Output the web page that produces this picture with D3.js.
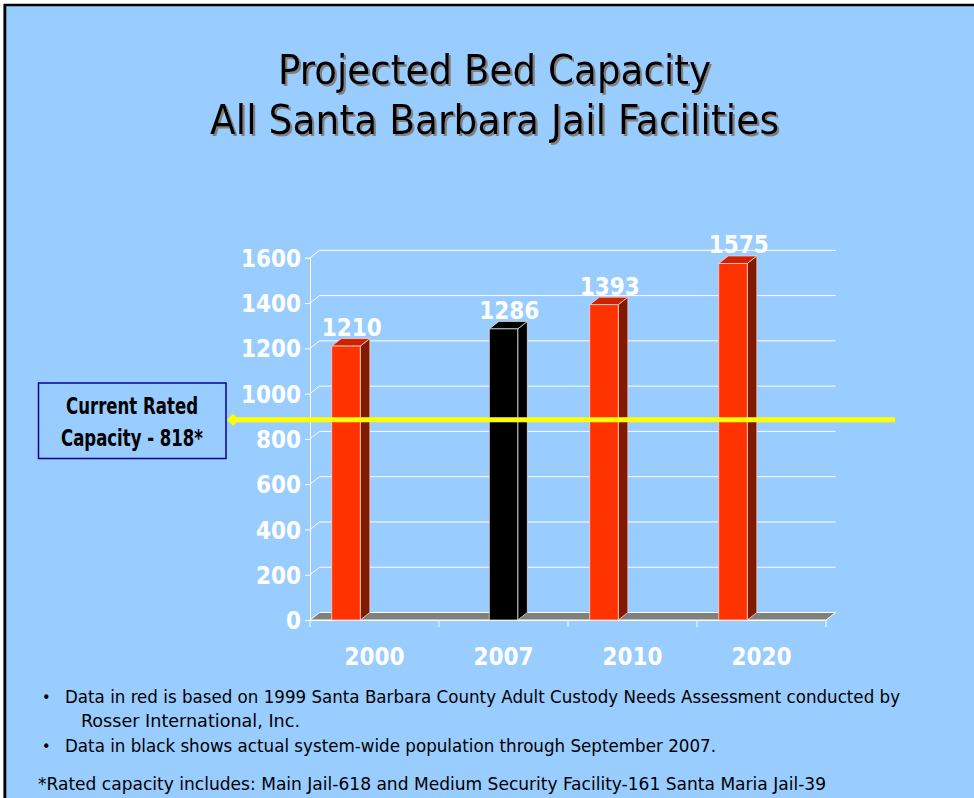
<!DOCTYPE html>
<html>
<head>
<meta charset="utf-8">
<script src="https://cdn.jsdelivr.net/npm/d3@7"></script>
<style>
  html, body { margin: 0; padding: 0; background: #ffffff; }
  svg { display: block; }
</style>
</head>
<body>
<svg id="chart" width="974" height="798"></svg>
<script>
// ---- data ----
const years = ["2000", "2007", "2010", "2020"];
const projected = [1210, null, 1393, 1575];   // red series (1999 needs assessment)
const actual = [null, 1286, null, null];      // black series (actual population)
const yTicks = [0, 200, 400, 600, 800, 1000, 1200, 1400, 1600];
const ratedCapacity = 818;
const titleLines = ["Projected Bed Capacity", "All Santa Barbara Jail Facilities"];
const calloutLines = ["Current Rated", "Capacity - 818*"];
const notes = [
  "Data in red is based on 1999 Santa Barbara County Adult Custody Needs Assessment conducted by",
  "Rosser International, Inc.",
  "Data in black shows actual system-wide population through September 2007.",
  "*Rated capacity includes:  Main Jail-618 and Medium Security Facility-161 Santa Maria Jail-39"
];

// ---- layout ----
const svg = d3.select("#chart");
const W = 974, H = 798;
const plot = { left: 310, right: 826, bottom: 620, top: 257.8 };
const depth = { dx: 9.6, dy: -7.5 };

// title drop shadow
const defs = svg.append("defs");
const shadow = defs.append("filter").attr("id", "titleShadow")
  .attr("x", "-5%").attr("y", "-20%").attr("width", "110%").attr("height", "140%");
shadow.append("feOffset").attr("in", "SourceAlpha").attr("dx", 2.2).attr("dy", 2.2).attr("result", "off");
shadow.append("feFlood").attr("flood-color", "#808080").attr("result", "col");
shadow.append("feComposite").attr("in", "col").attr("in2", "off").attr("operator", "in").attr("result", "sh");
const merge = shadow.append("feMerge");
merge.append("feMergeNode").attr("in", "sh");
merge.append("feMergeNode").attr("in", "SourceGraphic");

// slide background and frame
svg.append("rect").attr("x", 0).attr("y", 0).attr("width", W).attr("height", H).attr("fill", "#ffffff");
svg.append("rect").attr("x", 4).attr("y", 4).attr("width", W - 4).attr("height", H - 4).attr("fill", "#99CCFF");
svg.append("line").attr("x1", 3.5).attr("x2", 3.5).attr("y1", 4).attr("y2", H).attr("stroke", "#999999").attr("stroke-width", 1);
svg.append("line").attr("x1", 5).attr("x2", 5).attr("y1", 4).attr("y2", H).attr("stroke", "#000000").attr("stroke-width", 2.6);
svg.append("line").attr("x1", 4).attr("x2", W).attr("y1", 5).attr("y2", 5).attr("stroke", "#000000").attr("stroke-width", 2.6);

// ---- title ----
const titleFont = "'DejaVu Sans Condensed', 'DejaVu Sans', sans-serif";
const titleY = [84, 134];
const titleW = [433, 569];
titleLines.forEach((t, i) => {
  svg.append("text")
    .attr("x", 494.5).attr("y", titleY[i])
    .attr("text-anchor", "middle")
    .attr("font-family", titleFont)
    .attr("font-size", 40)
    .attr("textLength", titleW[i])
    .attr("lengthAdjust", "spacingAndGlyphs")
    .attr("fill", "#000000")
    .attr("filter", "url(#titleShadow)")
    .text(t);
});

// ---- scales ----
const x = d3.scaleBand().domain(years).range([plot.left, plot.right]).padding(0);
const slot = d3.scaleBand().domain([0, 1, 2]).range([0, x.bandwidth()]).paddingInner(0).paddingOuter(0.763);
const y = d3.scaleLinear().domain([0, 1600]).range([plot.bottom, plot.top]);

const white = "#ffffff";
const g = svg.append("g");

// back wall gridlines
g.selectAll("line.grid").data(yTicks.filter(v => v > 0)).join("line")
  .attr("class", "grid")
  .attr("x1", plot.left + depth.dx).attr("x2", plot.right + depth.dx)
  .attr("y1", d => y(d) + depth.dy).attr("y2", d => y(d) + depth.dy)
  .attr("stroke", white).attr("stroke-width", 1);

// side wall connectors from axis to back wall
g.selectAll("line.side").data(yTicks.filter(v => v > 0)).join("line")
  .attr("class", "side")
  .attr("x1", plot.left).attr("x2", plot.left + depth.dx)
  .attr("y1", d => y(d)).attr("y2", d => y(d) + depth.dy)
  .attr("stroke", white).attr("stroke-width", 1);

// floor
g.append("path")
  .attr("d", `M${plot.left},${plot.bottom} L${plot.right},${plot.bottom} L${plot.right + depth.dx},${plot.bottom + depth.dy} L${plot.left + depth.dx},${plot.bottom + depth.dy} Z`)
  .attr("fill", "#808080").attr("stroke", white).attr("stroke-width", 1);

// value axis
const yAxis = d3.axisLeft(y).tickValues(yTicks).tickSize(5).tickPadding(4).tickFormat(d3.format("d"));
const ya = g.append("g").attr("transform", `translate(${plot.left},0)`).call(yAxis);
ya.select(".domain").attr("stroke", white).attr("stroke-width", 1);
ya.selectAll(".tick line").attr("stroke", white);
ya.selectAll(".tick text")
  .attr("fill", white)
  .attr("font-family", "'DejaVu Sans Condensed', 'DejaVu Sans', sans-serif")
  .attr("font-weight", "bold")
  .attr("font-size", 24)
  .attr("dy", "0.36em");

// category axis
const xa = g.append("g").attr("transform", `translate(0,${plot.bottom})`)
  .call(d3.axisBottom(x).tickSize(0).tickPadding(28));
xa.select(".domain").attr("stroke", white).attr("stroke-width", 1);
xa.selectAll(".tick text")
  .attr("fill", white)
  .attr("font-family", "'DejaVu Sans Condensed', 'DejaVu Sans', sans-serif")
  .attr("font-weight", "bold")
  .attr("font-size", 24);
// category separators
g.selectAll("line.sep").data(d3.range(years.length + 1)).join("line")
  .attr("class", "sep")
  .attr("x1", i => plot.left + i * x.step()).attr("x2", i => plot.left + i * x.step())
  .attr("y1", plot.bottom).attr("y2", plot.bottom + 7)
  .attr("stroke", white).attr("stroke-width", 1);

// ---- 3D bars ----
const bars = [];
years.forEach((yr, i) => {
  if (projected[i] != null) bars.push({ yr, v: projected[i], s: 0, front: "#FF3300", top: "#CC2200", side: "#801A00" });
  if (actual[i] != null) bars.push({ yr, v: actual[i], s: 1, front: "#000000", top: "#000000", side: "#000000" });
});

const barG = g.selectAll("g.bar").data(bars).join("g").attr("class", "bar");
barG.each(function(d) {
  const sel = d3.select(this);
  const x0 = x(d.yr) + slot(d.s), w = slot.bandwidth();
  const x1 = x0 + w, y0 = y(d.v), yb = y(0);
  const edge = d.front === "#000000" ? "#dddddd" : "#ffcccc";
  sel.append("path")
    .attr("d", `M${x1},${y0} L${x1 + depth.dx},${y0 + depth.dy} L${x1 + depth.dx},${yb + depth.dy} L${x1},${yb} Z`)
    .attr("fill", d.side).attr("stroke", edge).attr("stroke-width", 0.8);
  sel.append("path")
    .attr("d", `M${x0},${y0} L${x0 + depth.dx},${y0 + depth.dy} L${x1 + depth.dx},${y0 + depth.dy} L${x1},${y0} Z`)
    .attr("fill", d.top).attr("stroke", edge).attr("stroke-width", 0.8);
  sel.append("rect")
    .attr("x", x0).attr("y", y0).attr("width", w).attr("height", yb - y0)
    .attr("fill", d.front).attr("stroke", edge).attr("stroke-width", 0.8);
  sel.append("text")
    .attr("x", x0 + (w + depth.dx) / 2 + 1).attr("y", y0 + depth.dy - 2.5)
    .attr("text-anchor", "middle")
    .attr("fill", white)
    .attr("font-family", "'DejaVu Sans Condensed', 'DejaVu Sans', sans-serif")
    .attr("font-weight", "bold")
    .attr("font-size", 24)
    .text(d.v);
});

// ---- rated capacity reference line ----
const refY = y(ratedCapacity) + 2 * depth.dy;
svg.append("line")
  .attr("x1", 233).attr("x2", 895).attr("y1", refY).attr("y2", refY)
  .attr("stroke", "#FFFF00").attr("stroke-width", 5);
svg.append("path")
  .attr("d", `M${227},${refY} L${233},${refY - 6} L${239},${refY} L${233},${refY + 6} Z`)
  .attr("fill", "#FFFF00");

// callout box
svg.append("rect")
  .attr("x", 38.5).attr("y", 383).attr("width", 187.5).attr("height", 75.5)
  .attr("fill", "#99CCFF").attr("stroke", "#000099").attr("stroke-width", 1.5);
const calloutW = [132, 142];
calloutLines.forEach((t, i) => {
  svg.append("text")
    .attr("x", 132).attr("y", 414 + i * 31.5)
    .attr("text-anchor", "middle")
    .attr("font-family", "'Liberation Sans Narrow', 'DejaVu Sans Condensed', sans-serif")
    .attr("font-weight", "bold")
    .attr("font-size", 23)
    .attr("textLength", calloutW[i])
    .attr("lengthAdjust", "spacingAndGlyphs")
    .attr("fill", "#000000")
    .text(t);
});

// ---- notes ----
const noteFont = "'DejaVu Sans Condensed', 'DejaVu Sans', sans-serif";
const noteRows = [
  { t: notes[0], x: 65, y: 703, w: 835, bullet: true },
  { t: notes[1], x: 81, y: 727, w: 219, bullet: false },
  { t: notes[2], x: 65, y: 752, w: 651, bullet: true },
  { t: notes[3], x: 38, y: 790, w: 788, bullet: false }
];
noteRows.forEach(r => {
  if (r.bullet) {
    svg.append("text").attr("x", 42).attr("y", r.y)
      .attr("font-family", noteFont).attr("font-size", 16).attr("fill", "#000").text("•");
  }
  svg.append("text")
    .attr("x", r.x).attr("y", r.y)
    .attr("font-family", noteFont).attr("font-size", 18)
    .attr("textLength", r.w).attr("lengthAdjust", "spacingAndGlyphs")
    .attr("fill", "#000").text(r.t);
});
</script>
</body>
</html>
